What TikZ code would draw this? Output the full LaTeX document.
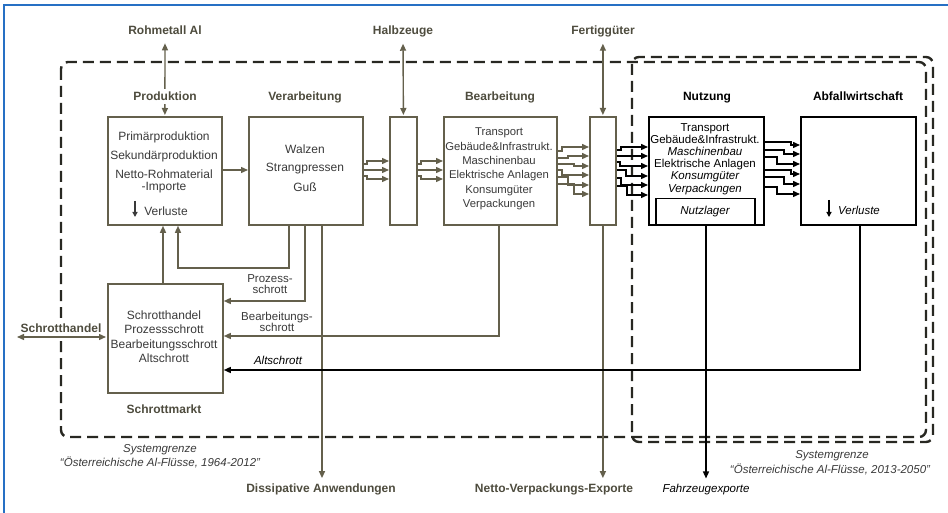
\documentclass[tikz,border=0pt]{standalone}
\usepackage{fontspec}
\setmainfont{Liberation Sans}
\usetikzlibrary{arrows.meta,calc}
\definecolor{olc}{RGB}{100,96,76}
\definecolor{txg}{RGB}{58,58,58}
\definecolor{hdg}{RGB}{78,76,62}
\definecolor{bnd}{RGB}{40,40,34}
\definecolor{frm}{RGB}{38,112,196}
\begin{document}
\begin{tikzpicture}[x=1pt,y=-1pt,
  bx/.style={line width=1.8pt, fill=white, inner sep=0pt, anchor=north west, draw=olc},
  kbx/.style={line width=2.2pt, fill=white, inner sep=0pt, anchor=north west, draw=black},
  tx/.style={anchor=base, inner sep=0pt, font=\fontsize{12}{14}\selectfont, text=txg},
  txs/.style={anchor=base, inner sep=0pt, font=\fontsize{11.3}{13}\selectfont, text=txg},
  txk/.style={anchor=base, inner sep=0pt, font=\fontsize{11.5}{13}\selectfont, text=black},
  txki/.style={txk, font=\itshape\fontsize{11.5}{13}\selectfont},
  hd/.style={anchor=base, inner sep=0pt, font=\bfseries\fontsize{12}{14}\selectfont, text=hdg},
  hdw/.style={hd, fill=white, inner xsep=2pt, inner ysep=3pt},
  oarr/.style={draw=olc, line width=1.4pt, -{Triangle[length=7pt,width=6pt]}},
  odarr/.style={draw=olc, line width=1.4pt, {Triangle[length=7pt,width=6pt]}-{Triangle[length=7pt,width=6pt]}},
  karr/.style={draw=black, line width=1.4pt, -{Triangle[length=7pt,width=6pt]}},
  smarr/.style={draw=txg, line width=1.2pt, -{Triangle[length=5pt,width=5pt]}},
  bound/.style={draw=bnd, line width=2.4pt, dash pattern=on 11pt off 6pt, rounded corners=7pt},
  sg/.style={anchor=base, inner sep=0pt, font=\itshape\fontsize{11.5}{13}\selectfont, text=txg}
]
\useasboundingbox (0,0) rectangle (948,513);
\fill[white] (0,0) rectangle (948,513);
% blue frame
\draw[frm, line width=1.6pt] (4,513) -- (4,5) -- (948,5);

% system boundaries
\draw[bound] (61,62) rectangle (926,437);
\draw[bound] (632,57) rectangle (933,442);

% boxes
\node[bx, minimum width=114pt, minimum height=108pt] (prod) at (107,116) {};
\node[bx, minimum width=114pt, minimum height=108pt] (verarb) at (248,116) {};
\node[bx, minimum width=27pt, minimum height=108pt] (halb) at (389,116) {};
\node[bx, minimum width=113pt, minimum height=108pt] (bearb) at (443,116) {};
\node[bx, minimum width=26pt, minimum height=108pt] (fert) at (589,116) {};
\node[kbx, minimum width=115pt, minimum height=108pt] (nutz) at (648,116) {};
\node[draw=black, line width=1.5pt, inner sep=0pt, anchor=north west, minimum width=99pt, minimum height=26pt] (nutzl) at (655,198) {};
\node[kbx, minimum width=115pt, minimum height=108pt] (abf) at (800,116) {};
\node[bx, minimum width=115pt, minimum height=109pt] (schrott) at (107,283) {};

% box texts
\node[tx] (p1) at (164,141) {Primärproduktion};
\node[tx] (p2) at (164,160) {Sekundärproduktion};
\node[tx] (p3) at (164,179) {Netto-Rohmaterial};
\node[tx] (p4) at (164,191) {-Importe};
\node[tx] (p5) at (166,216) {Verluste};
\coordinate (pv1) at (135,201);
\coordinate (pv2) at (135,217);
\draw[smarr] (pv1) -- (pv2);

\node[tx] (v1) at (305,154) {Walzen};
\node[tx] (v2) at (305,172) {Strangpressen};
\node[tx] (v3) at (305,192) {Guß};

\node[txs] (b1) at (499,136) {Transport};
\node[txs] (b2) at (499,151) {Gebäude\&Infrastrukt.};
\node[txs] (b3) at (499,165) {Maschinenbau};
\node[txs] (b4) at (499,179) {Elektrische Anlagen};
\node[txs] (b5) at (499,194) {Konsumgüter};
\node[txs] (b6) at (499,208) {Verpackungen};

\node[txk] (n1) at (705,132) {Transport};
\node[txk] (n2) at (705,144) {Gebäude\&Infrastrukt.};
\node[txki] (n3) at (705,156) {Maschinenbau};
\node[txk] (n4) at (705,168) {Elektrische Anlagen};
\node[txki] (n5) at (705,180) {Konsumgüter};
\node[txki] (n6) at (705,193) {Verpackungen};
\node[txki] (n7) at (705,215) {Nutzlager};

\node[txki] (a1) at (859,215) {Verluste};
\coordinate (av1) at (829,200);
\coordinate (av2) at (829,217);
\draw[draw=black, line width=1.2pt, -{Triangle[length=5pt,width=5pt]}] (av1) -- (av2);

\node[tx] (s1) at (164,319) {Schrotthandel};
\node[tx] (s2) at (164,333) {Prozessschrott};
\node[tx] (s3) at (164,348) {Bearbeitungsschrott};
\node[tx] (s4) at (164,362) {Altschrott};
\node[hd] (smtit) at (164,413) {Schrottmarkt};

% top labels and double arrows
\node[hd] (rohlab) at (165,35) {Rohmetall Al};
\node[hd] (halblab) at (403,35) {Halbzeuge};
\node[hd] (fertlab) at (603,35) {Fertiggüter};
\draw[odarr, shorten <=8pt, shorten >=1pt] (rohlab.south) -- (prod.north);
\draw[odarr, shorten <=6pt, shorten >=1pt] (halblab.south) -- (halb.north);
\draw[odarr, shorten <=6pt, shorten >=1pt] (fertlab.south -| fert.north) -- (fert.north);

% titles
\node[hdw] (prodtit) at (165,101) {Produktion};
\node[hd] (vertit) at (305,101) {Verarbeitung};
\node[hd] (beatit) at (500,101) {Bearbeitung};
\node[hd, text=black] (nuttit) at (707,101) {Nutzung};
\node[hd, text=black] (abftit) at (858,101) {Abfallwirtschaft};

% forward flows
\draw[oarr] (prod.east |- 0,170) -- (verarb.west |- 0,170);
\foreach \a/\b in {164/161, 170/170, 176/179}
  \draw[oarr] (verarb.east |- 0,\a) -- (367,\a) -- (367,\b) -- (halb.west |- 0,\b);
\foreach \a/\b in {164/161, 170/170, 176/179}
  \draw[oarr] (halb.east |- 0,\a) -- (421,\a) -- (421,\b) -- (bearb.west |- 0,\b);
\foreach \a/\b/\s in {151/147/562, 158/156/568, 164/166/574, 170/175/562, 177/185/568, 184/194/574}
  \draw[oarr] (bearb.east |- 0,\a) -- (\s,\a) -- (\s,\b) -- (fert.west |- 0,\b);
\foreach \a/\b/\s in {150/147/621, 156/156/627, 162/166/620, 170/176/626, 178/185/621, 186/195/627}
  \draw[karr] (fert.east |- 0,\a) -- (\s,\a) -- (\s,\b) -- (nutz.west |- 0,\b);
\foreach \a/\b/\s in {142/145/791, 150/154/784, 157/164/777, 170/174/791, 177/184/784, 187/194/777}
  \draw[karr] (nutz.east |- 0,\a) -- (\s,\a) -- (\s,\b) -- (abf.west |- 0,\b);

% bottom labels
\node[hd] (dislab) at (321,492) {Dissipative Anwendungen};
\node[hd] (netlab) at (554,492) {Netto-Verpackungs-Exporte};
\node[anchor=base, inner sep=0pt, font=\itshape\fontsize{11.5}{13}\selectfont, text=black] (fahrlab) at (706,492) {Fahrzeugexporte};

% scrap flows
\draw[oarr] (schrott.north -| 163,0) -- (prod.south -| 163,0);
\draw[oarr] (verarb.south -| 289,0) -- (289,268) -- (178,268) -- (prod.south -| 178,0);
\draw[oarr] (verarb.south -| 305,0) -- (305,301) -- (schrott.east |- 0,301);
\draw[oarr, shorten >=5pt] (verarb.south -| 322,0) -- (dislab.north -| 322,0);
\draw[oarr] (bearb.south -| 499,0) -- (499,336) -- (schrott.east |- 0,336);
\draw[oarr, shorten >=5pt] (fert.south) -- (fert.south |- netlab.north);
\draw[karr, shorten >=5pt] (nutz.south -| 706,0) -- (fahrlab.north -| 706,0);
\draw[karr] (abf.south -| 860,0) -- (860,370) -- (schrott.east |- 0,370);

\node[tx, font=\fontsize{11.5}{13}\selectfont] (pz1) at (270,282) {Prozess-};
\node[tx, font=\fontsize{11.5}{13}\selectfont] (pz2) at (270,293) {schrott};
\node[tx, font=\fontsize{11.5}{13}\selectfont] (bz1) at (277,320) {Bearbeitungs-};
\node[tx, font=\fontsize{11.5}{13}\selectfont] (bz2) at (277,331) {schrott};
\node[txki] (az) at (278,364) {Altschrott};

% Schrotthandel
\node[hdw, inner ysep=5pt] (shlab) at (61,332) {Schrotthandel};
\coordinate (shl) at (17,337);
\draw[odarr, shorten >=1pt] (shl) -- (schrott.west |- 0,337);

% boundary labels
\node[sg] (sg1) at (160,452) {Systemgrenze};
\node[sg] (sg2) at (160,466) {“Österreichische Al-Flüsse, 1964-2012”};
\node[sg] (sg3) at (832,458) {Systemgrenze};
\node[sg] (sg4) at (830,473) {“Österreichische Al-Flüsse, 2013-2050”};
\end{tikzpicture}
\end{document}
